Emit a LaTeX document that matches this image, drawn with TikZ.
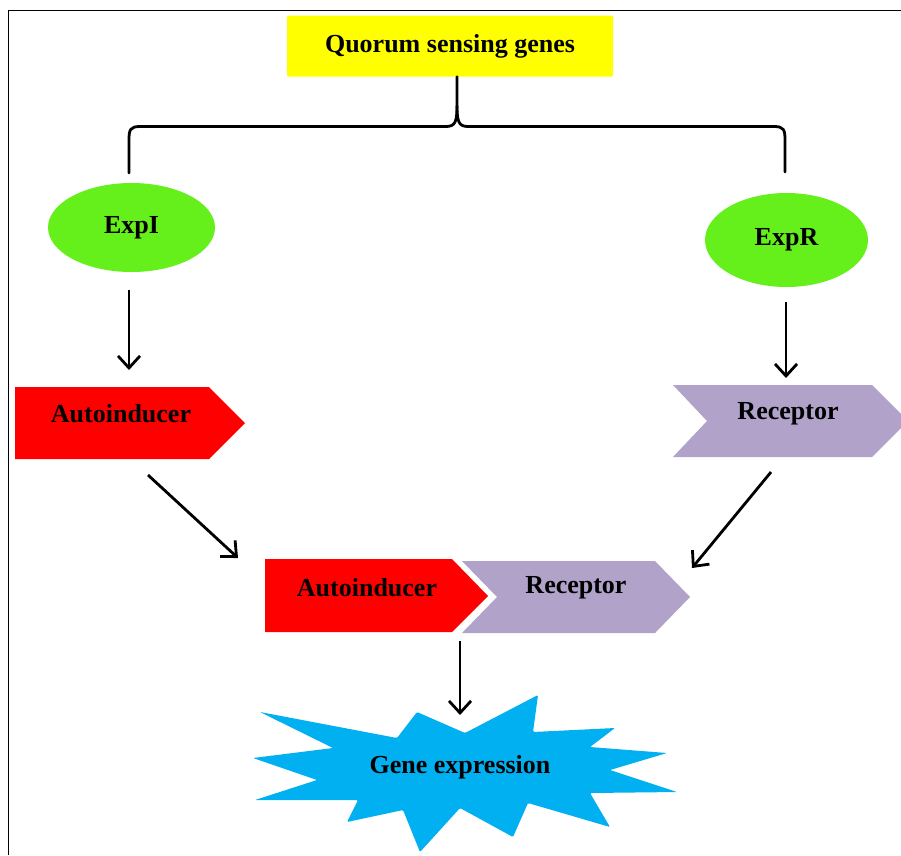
\documentclass[tikz,border=0pt]{standalone}
\usepackage{fontspec}
\setmainfont{Liberation Serif}
\usetikzlibrary{arrows.meta,shapes.geometric,calc}
\definecolor{qyellow}{RGB}{255,255,0}
\definecolor{qgreen}{RGB}{101,240,28}
\definecolor{qred}{RGB}{255,0,0}
\definecolor{qlav}{RGB}{177,162,202}
\definecolor{qblue}{RGB}{0,176,240}
\begin{document}
\begin{tikzpicture}[x=1pt,y=-1pt,
  lbl/.style={font=\fontsize{26}{30}\selectfont\bfseries, inner sep=0pt, text=black},
  arr/.style={line width=2.8pt, -{Straight Barb[length=12pt,width=22pt,line width=2.8pt]}},
  bracel/.style={line width=2.8pt, line cap=round},
  greenell/.style={ellipse, fill=qgreen, inner sep=0pt, lbl}]
\useasboundingbox (0,0) rectangle (901,855);
\fill[white] (0,0) rectangle (901,855);
\draw[line width=1.2pt] (8.5,855) -- (8.5,10.5) -- (901,10.5);

% top box
\node[lbl, fill=qyellow, rounded corners=1.5pt, minimum width=326pt, minimum height=61pt] (qs) at (450,46) {Quorum sensing genes};

% brace
\coordinate (cusp) at (457,106);
\coordinate (bl) at (129,173);
\coordinate (br) at (785,172);
\draw[bracel] ([xshift=7pt]qs.south) -- (cusp)
  .. controls (457,122) and (455,126.5) .. (446,126.5) -- (140,126.5)
  .. controls (130,126.5) and (129,130) .. (129,140) -- (bl);
\draw[bracel] (cusp)
  .. controls (457,122) and (459,126.5) .. (468,126.5) -- (774,126.5)
  .. controls (784,126.5) and (785,130) .. (785,140) -- (br);

% ellipses
\node[greenell, minimum width=167pt, minimum height=89pt] (expi) at (131.5,227.5) {ExpI};
\node[greenell, minimum width=163pt, minimum height=94pt] (expr) at (786.5,240) {ExpR};

% first row chevrons
\fill[qred] (15,387) -- (209,387) -- (245,423) -- (209,459) -- (15,459) -- cycle;
\node[lbl] (ai1) at (121,414) {Autoinducer};
\fill[qlav] (673,385) -- (872,385) -- (908,421) -- (872,457) -- (673,457) -- (707,421) -- cycle;
\node[lbl] (rec1) at (788,414) {Receptor};

% combined
\fill[qred] (265,559) -- (452,559) -- (488,596) -- (452,632) -- (265,632) -- cycle;
\fill[qlav] (462,561) -- (655,561) -- (690,597) -- (655,633) -- (462,633) -- (497,597) -- cycle;
\node[lbl] (ai2) at (367,588) {Autoinducer};
\node[lbl] (rec2) at (576,588) {Receptor};
\coordinate (pair) at (460,596);

% star
\fill[qblue, rounded corners=1.2pt] (260,712) -- (397,738) -- (417,712) -- (465,733) -- (538,695) -- (533,732)
  -- (615,728) -- (590,747) -- (667,753) -- (610,770) -- (677,792) -- (590,793) -- (610,827)
  -- (528,803) -- (513,837) -- (460,808) -- (420,852) -- (403,810) -- (347,822) -- (358,800)
  -- (255,800) -- (317,780) -- (253,758) -- (333,748) -- cycle;
\node[lbl] (gene) at (460,767) {Gene expression};

% arrows
\draw[arr] ($(expi.south)+(-2.5,18)$) -- ($(ai1)+(8,-44)$);
\draw[arr] ($(expr.south)+(-0.5,15)$) -- ($(rec1)+(-2,-36)$);
\draw[arr] ($(ai1)+(27,61)$) -- ($(ai2)+(-129,-30)$);
\draw[arr] ($(rec1)+(-17,58)$) -- ($(rec2)+(116,-20)$);
\draw[arr] ($(pair)+(0,45)$) -- ($(gene)+(0,-52)$);
\end{tikzpicture}
\end{document}
